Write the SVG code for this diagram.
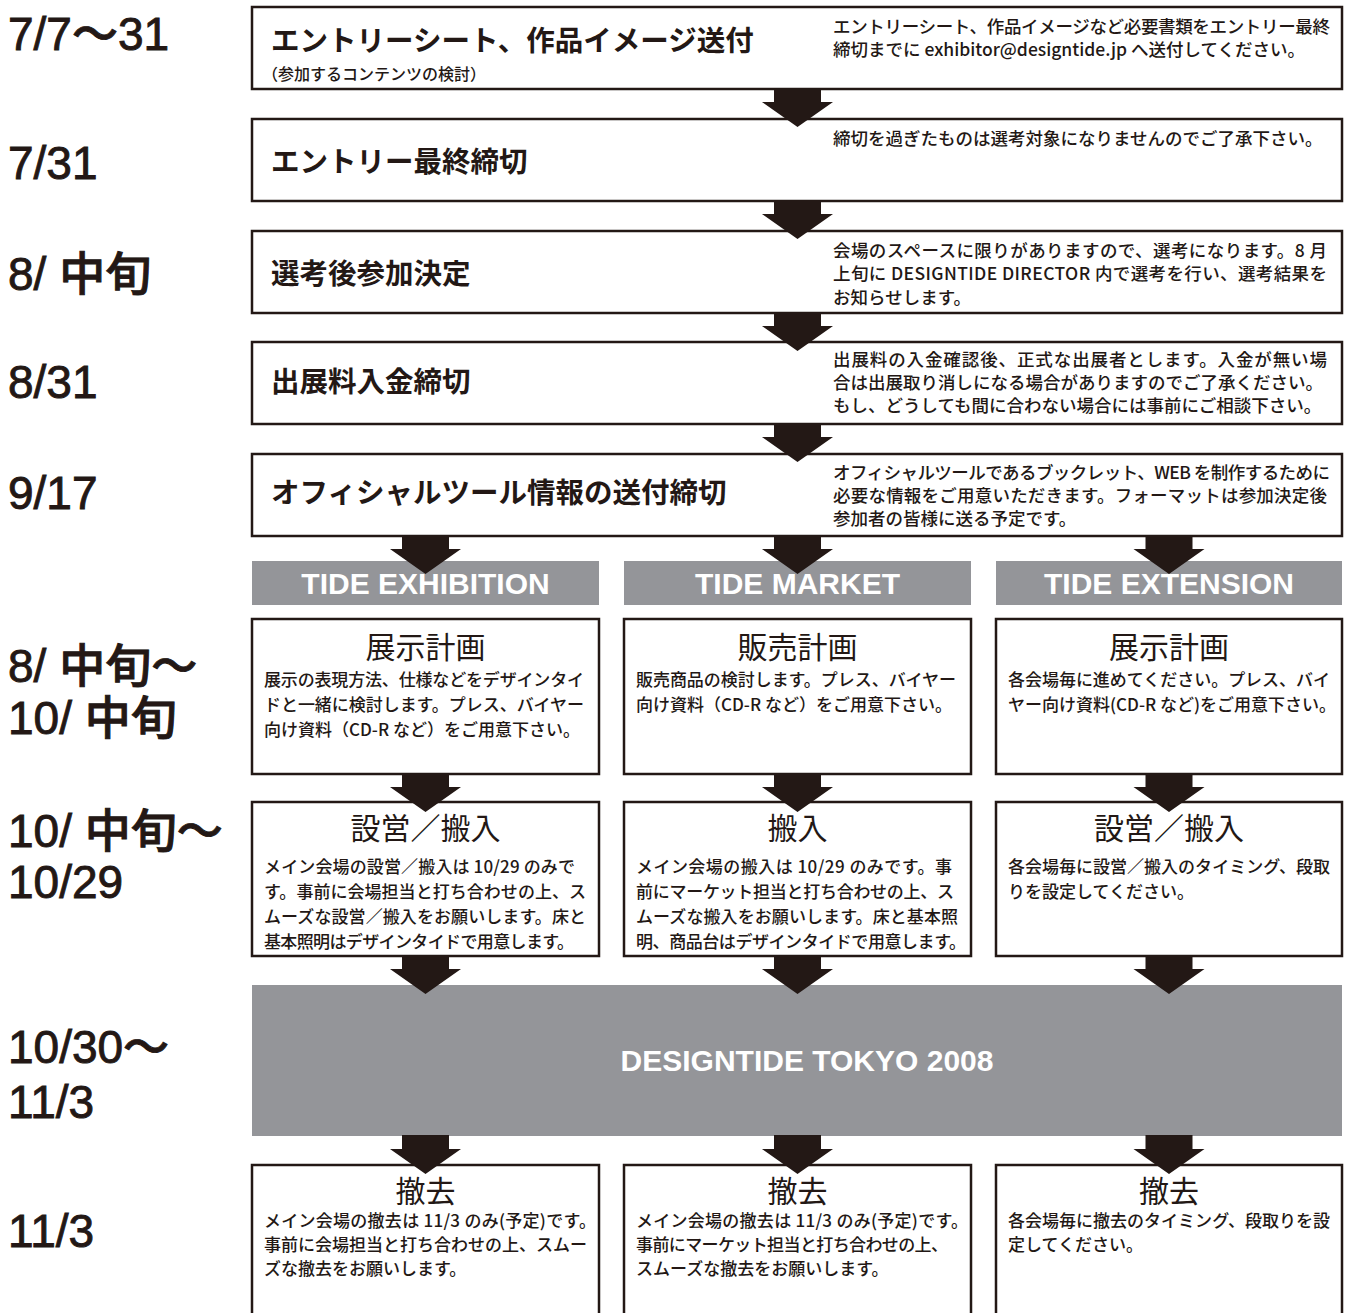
<svg xmlns="http://www.w3.org/2000/svg" xmlns:xlink="http://www.w3.org/1999/xlink" width="1351" height="1313" viewBox="0 0 1351 1313">
<style>
.bg{fill:#fff}
.box{fill:#fff;stroke:#231815;stroke-width:2.5}
.bar{fill:#949599}
.arr{fill:#231815}
.jp{font-family:"Noto Sans CJK JP","Liberation Sans",sans-serif;fill:#231815}
.date{font-family:"Liberation Sans","Noto Sans CJK JP",sans-serif;fill:#231815;stroke:#231815;stroke-width:0.9px;font-size:46px;font-weight:500}
.ttl{font-size:28.5px;font-weight:700}
.sub{font-size:16px;font-weight:500}
.desc{font-size:17.5px;font-weight:500}
.ctl{font-size:30px;font-weight:400;text-anchor:middle}
.body{font-size:17px;font-weight:500}
.lat{font-family:"Liberation Sans",Arial,sans-serif;font-weight:700;font-size:30px;fill:#fff;text-anchor:middle}
</style>
<defs>
<path id="arrow" d="M-23.5 -1H23.5V13H35.5L0 38L-35.5 13H-23.5Z"/>
</defs>
<rect class="bg" x="0" y="0" width="1351" height="1313"/>

<g id="dates" class="date">
<text x="8" y="50">7/7〜31</text>
<text x="8" y="179">7/31</text>
<text x="8" y="290">8/ 中旬</text>
<text x="8" y="398">8/31</text>
<text x="8" y="509">9/17</text>
<text x="8" y="682">8/ 中旬〜</text>
<text x="8" y="734">10/ 中旬</text>
<text x="8" y="847">10/ 中旬〜</text>
<text x="8" y="898">10/29</text>
<text x="8" y="1063">10/30〜</text>
<text x="8" y="1118">11/3</text>
<text x="8" y="1247">11/3</text>
</g>

<g id="step1">
<rect class="box" x="252" y="7" width="1090" height="82"/>
<text class="jp ttl" x="271" y="51">エントリーシート、作品イメージ送付</text>
<text class="jp sub" x="262" y="80">（参加するコンテンツの検討）</text>
<text class="jp desc" x="833" y="33" textLength="497" lengthAdjust="spacing">エントリーシート、作品イメージなど必要書類をエントリー最終</text>
<text class="jp desc" x="833" y="56">締切までに exhibitor@designtide.jp へ送付してください。</text>
</g>

<g id="step2">
<rect class="box" x="252" y="119" width="1090" height="82"/>
<text class="jp ttl" x="271" y="172">エントリー最終締切</text>
<text class="jp desc" x="833" y="145">締切を過ぎたものは選考対象になりませんのでご了承下さい。</text>
</g>

<g id="step3">
<rect class="box" x="252" y="231" width="1090" height="82"/>
<text class="jp ttl" x="271" y="284">選考後参加決定</text>
<text class="jp desc" x="833" y="257" textLength="494" lengthAdjust="spacing">会場のスペースに限りがありますので、選考になります。8 月</text>
<text class="jp desc" x="833" y="280" textLength="494" lengthAdjust="spacing">上旬に DESIGNTIDE DIRECTOR 内で選考を行い、選考結果を</text>
<text class="jp desc" x="833" y="304">お知らせします。</text>
</g>

<g id="step4">
<rect class="box" x="252" y="342" width="1090" height="82"/>
<text class="jp ttl" x="271" y="392">出展料入金締切</text>
<text class="jp desc" x="833" y="366" textLength="494" lengthAdjust="spacing">出展料の入金確認後、正式な出展者とします。入金が無い場</text>
<text class="jp desc" x="833" y="389">合は出展取り消しになる場合がありますのでご了承ください。</text>
<text class="jp desc" x="833" y="412">もし、どうしても間に合わない場合には事前にご相談下さい。</text>
</g>

<g id="step5">
<rect class="box" x="252" y="454" width="1090" height="82"/>
<text class="jp ttl" x="271" y="503">オフィシャルツール情報の送付締切</text>
<text class="jp desc" x="833" y="479" textLength="497" lengthAdjust="spacing">オフィシャルツールであるブックレット、WEB を制作するために</text>
<text class="jp desc" x="833" y="502" textLength="494" lengthAdjust="spacing">必要な情報をご用意いただきます。フォーマットは参加決定後</text>
<text class="jp desc" x="833" y="525">参加者の皆様に送る予定です。</text>
</g>

<g id="bar-exhibition">
<rect class="bar" x="252" y="561" width="347" height="44"/>
<text class="lat" x="425.5" y="594">TIDE EXHIBITION</text>
</g>
<g id="bar-market">
<rect class="bar" x="624" y="561" width="347" height="44"/>
<text class="lat" x="797.5" y="594">TIDE MARKET</text>
</g>
<g id="bar-extension">
<rect class="bar" x="996" y="561" width="346" height="44"/>
<text class="lat" x="1169" y="594">TIDE EXTENSION</text>
</g>

<g id="plan-exhibition">
<rect class="box" x="252" y="619" width="347" height="155"/>
<text class="jp ctl" x="425.5" y="658">展示計画</text>
<text class="jp body" x="264" y="686" textLength="320" lengthAdjust="spacing">展示の表現方法、仕様などをデザインタイ</text>
<text class="jp body" x="264" y="711" textLength="320" lengthAdjust="spacing">ドと一緒に検討します。プレス、バイヤー</text>
<text class="jp body" x="264" y="736">向け資料（CD-R など）をご用意下さい。</text>
</g>
<g id="plan-market">
<rect class="box" x="624" y="619" width="347" height="155"/>
<text class="jp ctl" x="797.5" y="658">販売計画</text>
<text class="jp body" x="636" y="686" textLength="320" lengthAdjust="spacing">販売商品の検討します。プレス、バイヤー</text>
<text class="jp body" x="636" y="711">向け資料（CD-R など）をご用意下さい。</text>
</g>
<g id="plan-extension">
<rect class="box" x="996" y="619" width="346" height="155"/>
<text class="jp ctl" x="1169" y="658">展示計画</text>
<text class="jp body" x="1008" y="686" textLength="322" lengthAdjust="spacing">各会場毎に進めてください。プレス、バイ</text>
<text class="jp body" x="1008" y="711">ヤー向け資料(CD-R など)をご用意下さい。</text>
</g>

<g id="setup-exhibition">
<rect class="box" x="252" y="802" width="347" height="154"/>
<text class="jp ctl" x="425.5" y="839">設営／搬入</text>
<text class="jp body" x="264" y="873" textLength="311" lengthAdjust="spacing">メイン会場の設営／搬入は 10/29 のみで</text>
<text class="jp body" x="264" y="898" textLength="322" lengthAdjust="spacing">す。事前に会場担当と打ち合わせの上、ス</text>
<text class="jp body" x="264" y="923" textLength="322" lengthAdjust="spacing">ムーズな設営／搬入をお願いします。床と</text>
<text class="jp body" x="264" y="948" textLength="310" lengthAdjust="spacing">基本照明はデザインタイドで用意します。</text>
</g>
<g id="setup-market">
<rect class="box" x="624" y="802" width="347" height="154"/>
<text class="jp ctl" x="797.5" y="839">搬入</text>
<text class="jp body" x="636" y="873" textLength="316" lengthAdjust="spacing">メイン会場の搬入は 10/29 のみです。事</text>
<text class="jp body" x="636" y="898" textLength="318" lengthAdjust="spacing">前にマーケット担当と打ち合わせの上、ス</text>
<text class="jp body" x="636" y="923" textLength="322" lengthAdjust="spacing">ムーズな搬入をお願いします。床と基本照</text>
<text class="jp body" x="636" y="948" textLength="330" lengthAdjust="spacing">明、商品台はデザインタイドで用意します。</text>
</g>
<g id="setup-extension">
<rect class="box" x="996" y="802" width="346" height="154"/>
<text class="jp ctl" x="1169" y="839">設営／搬入</text>
<text class="jp body" x="1008" y="873" textLength="322" lengthAdjust="spacing">各会場毎に設営／搬入のタイミング、段取</text>
<text class="jp body" x="1008" y="898">りを設定してください。</text>
</g>

<g id="event">
<rect class="bar" x="252" y="985" width="1090" height="151"/>
<text class="lat" x="807" y="1071">DESIGNTIDE TOKYO 2008</text>
</g>

<g id="removal-exhibition">
<rect class="box" x="252" y="1165" width="347" height="170"/>
<text class="jp ctl" x="425.5" y="1202">撤去</text>
<text class="jp body" x="264" y="1227" textLength="332" lengthAdjust="spacing">メイン会場の撤去は 11/3 のみ(予定)です。</text>
<text class="jp body" x="264" y="1251" textLength="323" lengthAdjust="spacing">事前に会場担当と打ち合わせの上、スムー</text>
<text class="jp body" x="264" y="1275">ズな撤去をお願いします。</text>
</g>
<g id="removal-market">
<rect class="box" x="624" y="1165" width="347" height="170"/>
<text class="jp ctl" x="797.5" y="1202">撤去</text>
<text class="jp body" x="636" y="1227" textLength="332" lengthAdjust="spacing">メイン会場の撤去は 11/3 のみ(予定)です。</text>
<text class="jp body" x="636" y="1251" textLength="312" lengthAdjust="spacing">事前にマーケット担当と打ち合わせの上、</text>
<text class="jp body" x="636" y="1275">スムーズな撤去をお願いします。</text>
</g>
<g id="removal-extension">
<rect class="box" x="996" y="1165" width="346" height="170"/>
<text class="jp ctl" x="1169" y="1202">撤去</text>
<text class="jp body" x="1008" y="1227" textLength="322" lengthAdjust="spacing">各会場毎に撤去のタイミング、段取りを設</text>
<text class="jp body" x="1008" y="1251">定してください。</text>
</g>

<g id="connectors" class="arr">
<use href="#arrow" x="797.5" y="89"/>
<use href="#arrow" x="797.5" y="201"/>
<use href="#arrow" x="797.5" y="313"/>
<use href="#arrow" x="797.5" y="424"/>
<use href="#arrow" x="425.5" y="536"/>
<use href="#arrow" x="797.5" y="536"/>
<use href="#arrow" x="1169" y="536"/>
<use href="#arrow" x="425.5" y="774"/>
<use href="#arrow" x="797.5" y="774"/>
<use href="#arrow" x="1169" y="774"/>
<use href="#arrow" x="425.5" y="956"/>
<use href="#arrow" x="797.5" y="956"/>
<use href="#arrow" x="1169" y="956"/>
<use href="#arrow" x="425.5" y="1136"/>
<use href="#arrow" x="797.5" y="1136"/>
<use href="#arrow" x="1169" y="1136"/>
</g>
</svg>
